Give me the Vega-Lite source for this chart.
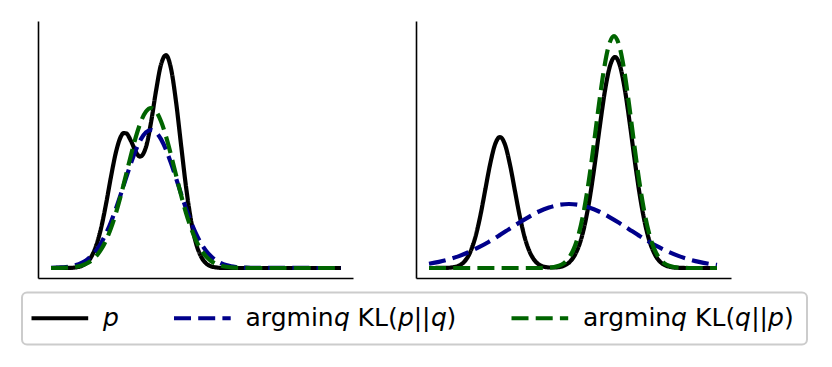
{
"$schema": "https://vega.github.io/schema/vega-lite/v6.json",
"padding": {"left": 21, "top": 21, "right": 10, "bottom": 10},
"bounds": "flush",
"spacing": 63,
"background": "white",
"data": {"values": [
{"panel":"L","s":"p","x":0,"y":0},{"panel":"L","s":"p","x":20,"y":0.19},{"panel":"L","s":"p","x":25,"y":0.62},{"panel":"L","s":"p","x":30,"y":1.8},{"panel":"L","s":"p","x":35,"y":4.7},{"panel":"L","s":"p","x":40,"y":10.7},{"panel":"L","s":"p","x":45,"y":21.9},{"panel":"L","s":"p","x":50,"y":39.6},{"panel":"L","s":"p","x":55,"y":63.8},{"panel":"L","s":"p","x":60,"y":91.3},{"panel":"L","s":"p","x":65,"y":116.0},{"panel":"L","s":"p","x":70,"y":131.7},{"panel":"L","s":"p","x":72.5,"y":134.9},{"panel":"L","s":"p","x":75,"y":134.7},{"panel":"L","s":"p","x":80,"y":127.0},{"panel":"L","s":"p","x":85,"y":115.9},{"panel":"L","s":"p","x":89,"y":111.4},{"panel":"L","s":"p","x":95,"y":121.0},{"panel":"L","s":"p","x":100,"y":145.5},{"panel":"L","s":"p","x":105,"y":177.0},{"panel":"L","s":"p","x":110,"y":203.4},{"panel":"L","s":"p","x":115,"y":212.8},{"panel":"L","s":"p","x":120,"y":199.4},{"panel":"L","s":"p","x":125,"y":166.5},{"panel":"L","s":"p","x":130,"y":123.6},{"panel":"L","s":"p","x":135,"y":81.4},{"panel":"L","s":"p","x":140,"y":47.7},{"panel":"L","s":"p","x":145,"y":24.8},{"panel":"L","s":"p","x":150,"y":11.5},{"panel":"L","s":"p","x":155,"y":4.7},{"panel":"L","s":"p","x":160,"y":1.7},{"panel":"L","s":"p","x":165,"y":0.55},{"panel":"L","s":"p","x":170,"y":0.16},{"panel":"L","s":"p","x":180,"y":0},{"panel":"L","s":"p","x":290,"y":0},
{"panel":"L","s":"pq","x":0,"y":0.15},{"panel":"L","s":"pq","x":5,"y":0.28},{"panel":"L","s":"pq","x":10,"y":0.53},{"panel":"L","s":"pq","x":15,"y":0.97},{"panel":"L","s":"pq","x":20,"y":1.71},{"panel":"L","s":"pq","x":25,"y":2.91},{"panel":"L","s":"pq","x":30,"y":4.79},{"panel":"L","s":"pq","x":35,"y":7.6},{"panel":"L","s":"pq","x":40,"y":11.7},{"panel":"L","s":"pq","x":45,"y":17.3},{"panel":"L","s":"pq","x":50,"y":24.8},{"panel":"L","s":"pq","x":55,"y":34.4},{"panel":"L","s":"pq","x":60,"y":46.1},{"panel":"L","s":"pq","x":65,"y":59.6},{"panel":"L","s":"pq","x":70,"y":74.4},{"panel":"L","s":"pq","x":75,"y":89.9},{"panel":"L","s":"pq","x":80,"y":104.9},{"panel":"L","s":"pq","x":85,"y":118.3},{"panel":"L","s":"pq","x":90,"y":128.9},{"panel":"L","s":"pq","x":95,"y":135.7},{"panel":"L","s":"pq","x":100,"y":138},{"panel":"L","s":"pq","x":105,"y":135.7},{"panel":"L","s":"pq","x":110,"y":128.9},{"panel":"L","s":"pq","x":115,"y":118.3},{"panel":"L","s":"pq","x":120,"y":104.9},{"panel":"L","s":"pq","x":125,"y":89.9},{"panel":"L","s":"pq","x":130,"y":74.4},{"panel":"L","s":"pq","x":135,"y":59.6},{"panel":"L","s":"pq","x":140,"y":46.1},{"panel":"L","s":"pq","x":145,"y":34.4},{"panel":"L","s":"pq","x":150,"y":24.8},{"panel":"L","s":"pq","x":155,"y":17.3},{"panel":"L","s":"pq","x":160,"y":11.7},{"panel":"L","s":"pq","x":165,"y":7.6},{"panel":"L","s":"pq","x":170,"y":4.79},{"panel":"L","s":"pq","x":175,"y":2.91},{"panel":"L","s":"pq","x":180,"y":1.71},{"panel":"L","s":"pq","x":185,"y":0.97},{"panel":"L","s":"pq","x":190,"y":0.53},{"panel":"L","s":"pq","x":195,"y":0.28},{"panel":"L","s":"pq","x":200,"y":0.15},{"panel":"L","s":"pq","x":290,"y":0},
{"panel":"L","s":"qp","x":0,"y":0},{"panel":"L","s":"qp","x":10,"y":0.14},{"panel":"L","s":"qp","x":15,"y":0.3},{"panel":"L","s":"qp","x":20,"y":0.62},{"panel":"L","s":"qp","x":25,"y":1.21},{"panel":"L","s":"qp","x":30,"y":2.27},{"panel":"L","s":"qp","x":35,"y":4.09},{"panel":"L","s":"qp","x":40,"y":7.03},{"panel":"L","s":"qp","x":45,"y":11.6},{"panel":"L","s":"qp","x":50,"y":18.3},{"panel":"L","s":"qp","x":55,"y":27.6},{"panel":"L","s":"qp","x":60,"y":39.9},{"panel":"L","s":"qp","x":65,"y":55.2},{"panel":"L","s":"qp","x":70,"y":73.2},{"panel":"L","s":"qp","x":75,"y":93.0},{"panel":"L","s":"qp","x":80,"y":113.1},{"panel":"L","s":"qp","x":85,"y":131.6},{"panel":"L","s":"qp","x":90,"y":146.7},{"panel":"L","s":"qp","x":95,"y":156.6},{"panel":"L","s":"qp","x":100,"y":160},{"panel":"L","s":"qp","x":105,"y":156.6},{"panel":"L","s":"qp","x":110,"y":146.7},{"panel":"L","s":"qp","x":115,"y":131.6},{"panel":"L","s":"qp","x":120,"y":113.1},{"panel":"L","s":"qp","x":125,"y":93.0},{"panel":"L","s":"qp","x":130,"y":73.2},{"panel":"L","s":"qp","x":135,"y":55.2},{"panel":"L","s":"qp","x":140,"y":39.9},{"panel":"L","s":"qp","x":145,"y":27.6},{"panel":"L","s":"qp","x":150,"y":18.3},{"panel":"L","s":"qp","x":155,"y":11.6},{"panel":"L","s":"qp","x":160,"y":7.03},{"panel":"L","s":"qp","x":165,"y":4.09},{"panel":"L","s":"qp","x":170,"y":2.27},{"panel":"L","s":"qp","x":175,"y":1.21},{"panel":"L","s":"qp","x":180,"y":0.62},{"panel":"L","s":"qp","x":185,"y":0.3},{"panel":"L","s":"qp","x":190,"y":0.14},{"panel":"L","s":"qp","x":200,"y":0},{"panel":"L","s":"qp","x":290,"y":0},
{"panel":"R","s":"p","x":0,"y":0},{"panel":"R","s":"p","x":16,"y":0.1},{"panel":"R","s":"p","x":21,"y":0.34},{"panel":"R","s":"p","x":26,"y":1.06},{"panel":"R","s":"p","x":31,"y":2.9},{"panel":"R","s":"p","x":36,"y":7.1},{"panel":"R","s":"p","x":41,"y":15.4},{"panel":"R","s":"p","x":46,"y":29.6},{"panel":"R","s":"p","x":51,"y":50.6},{"panel":"R","s":"p","x":56,"y":76.8},{"panel":"R","s":"p","x":61,"y":103.2},{"panel":"R","s":"p","x":66,"y":123.4},{"panel":"R","s":"p","x":71,"y":131},{"panel":"R","s":"p","x":76,"y":123.4},{"panel":"R","s":"p","x":81,"y":103.2},{"panel":"R","s":"p","x":86,"y":76.8},{"panel":"R","s":"p","x":91,"y":50.6},{"panel":"R","s":"p","x":96,"y":29.6},{"panel":"R","s":"p","x":101,"y":15.4},{"panel":"R","s":"p","x":106,"y":7.1},{"panel":"R","s":"p","x":111,"y":2.9},{"panel":"R","s":"p","x":116,"y":1.06},{"panel":"R","s":"p","x":121,"y":0.48},{"panel":"R","s":"p","x":126,"y":0.52},{"panel":"R","s":"p","x":131,"y":1.13},{"panel":"R","s":"p","x":136,"y":2.79},{"panel":"R","s":"p","x":141,"y":6.35},{"panel":"R","s":"p","x":146,"y":13.3},{"panel":"R","s":"p","x":151,"y":25.3},{"panel":"R","s":"p","x":156,"y":44.5},{"panel":"R","s":"p","x":161,"y":71.6},{"panel":"R","s":"p","x":166,"y":105.6},{"panel":"R","s":"p","x":171,"y":143.0},{"panel":"R","s":"p","x":176,"y":177.5},{"panel":"R","s":"p","x":181,"y":202.1},{"panel":"R","s":"p","x":186,"y":211},{"panel":"R","s":"p","x":191,"y":202.1},{"panel":"R","s":"p","x":196,"y":177.5},{"panel":"R","s":"p","x":201,"y":143.0},{"panel":"R","s":"p","x":206,"y":105.6},{"panel":"R","s":"p","x":211,"y":71.6},{"panel":"R","s":"p","x":216,"y":44.5},{"panel":"R","s":"p","x":221,"y":25.3},{"panel":"R","s":"p","x":226,"y":13.3},{"panel":"R","s":"p","x":231,"y":6.35},{"panel":"R","s":"p","x":236,"y":2.79},{"panel":"R","s":"p","x":241,"y":1.13},{"panel":"R","s":"p","x":246,"y":0.42},{"panel":"R","s":"p","x":251,"y":0.14},{"panel":"R","s":"p","x":260,"y":0},{"panel":"R","s":"p","x":288,"y":0},
{"panel":"R","s":"pq","x":0,"y":4.21},{"panel":"R","s":"pq","x":10,"y":6.12},{"panel":"R","s":"pq","x":20,"y":8.66},{"panel":"R","s":"pq","x":30,"y":11.9},{"panel":"R","s":"pq","x":40,"y":16.0},{"panel":"R","s":"pq","x":50,"y":20.8},{"panel":"R","s":"pq","x":60,"y":26.3},{"panel":"R","s":"pq","x":70,"y":32.4},{"panel":"R","s":"pq","x":80,"y":38.8},{"panel":"R","s":"pq","x":90,"y":45.2},{"panel":"R","s":"pq","x":100,"y":51.2},{"panel":"R","s":"pq","x":110,"y":56.5},{"panel":"R","s":"pq","x":120,"y":60.5},{"panel":"R","s":"pq","x":130,"y":63.1},{"panel":"R","s":"pq","x":140,"y":64},{"panel":"R","s":"pq","x":150,"y":63.1},{"panel":"R","s":"pq","x":160,"y":60.5},{"panel":"R","s":"pq","x":170,"y":56.5},{"panel":"R","s":"pq","x":180,"y":51.2},{"panel":"R","s":"pq","x":190,"y":45.2},{"panel":"R","s":"pq","x":200,"y":38.8},{"panel":"R","s":"pq","x":210,"y":32.4},{"panel":"R","s":"pq","x":220,"y":26.3},{"panel":"R","s":"pq","x":230,"y":20.8},{"panel":"R","s":"pq","x":240,"y":16.0},{"panel":"R","s":"pq","x":250,"y":11.9},{"panel":"R","s":"pq","x":260,"y":8.66},{"panel":"R","s":"pq","x":270,"y":6.12},{"panel":"R","s":"pq","x":280,"y":4.21},{"panel":"R","s":"pq","x":288,"y":3.05},
{"panel":"R","s":"qp","x":0,"y":0},{"panel":"R","s":"qp","x":110,"y":0},{"panel":"R","s":"qp","x":115,"y":0.12},{"panel":"R","s":"qp","x":120,"y":0.34},{"panel":"R","s":"qp","x":125,"y":0.9},{"panel":"R","s":"qp","x":130,"y":2.18},{"panel":"R","s":"qp","x":135,"y":4.9},{"panel":"R","s":"qp","x":140,"y":10.2},{"panel":"R","s":"qp","x":145,"y":19.6},{"panel":"R","s":"qp","x":150,"y":35.0},{"panel":"R","s":"qp","x":155,"y":57.9},{"panel":"R","s":"qp","x":160,"y":88.4},{"panel":"R","s":"qp","x":165,"y":125.1},{"panel":"R","s":"qp","x":170,"y":163.9},{"panel":"R","s":"qp","x":175,"y":198.8},{"panel":"R","s":"qp","x":180,"y":223.2},{"panel":"R","s":"qp","x":185,"y":232},{"panel":"R","s":"qp","x":190,"y":223.2},{"panel":"R","s":"qp","x":195,"y":198.8},{"panel":"R","s":"qp","x":200,"y":163.9},{"panel":"R","s":"qp","x":205,"y":125.1},{"panel":"R","s":"qp","x":210,"y":88.4},{"panel":"R","s":"qp","x":215,"y":57.9},{"panel":"R","s":"qp","x":220,"y":35.0},{"panel":"R","s":"qp","x":225,"y":19.6},{"panel":"R","s":"qp","x":230,"y":10.2},{"panel":"R","s":"qp","x":235,"y":4.9},{"panel":"R","s":"qp","x":240,"y":2.18},{"panel":"R","s":"qp","x":245,"y":0.9},{"panel":"R","s":"qp","x":250,"y":0.34},{"panel":"R","s":"qp","x":255,"y":0.12},{"panel":"R","s":"qp","x":260,"y":0},{"panel":"R","s":"qp","x":288,"y":0}
]},
"config": {
  "font": "DejaVu Sans",
  "view": {"stroke": null},
  "axis": {"domainColor": "black", "domainWidth": 1.6, "ticks": false, "labels": false, "grid": false},
  "legend": {"symbolType": "M-1.6,0H4.07", "symbolSize": 400, "symbolStrokeWidth": 4.2, "labelFont": "DejaVu Sans", "labelFontSize": 25, "labelColor": "black", "labelOffset": 43, "labelLimit": 400, "columnPadding": 46.5, "padding": 13, "strokeColor": "#cccccc", "strokeWidth": 2, "cornerRadius": 5, "fillColor": "white"}
},
"resolve": {"scale": {"color": "shared", "strokeDash": "shared"}, "legend": {"color": "shared", "strokeDash": "shared"}},
"hconcat": [
  {
    "width": 315, "height": 257,
    "transform": [{"filter": "datum.panel == 'L'"}],
    "mark": {"type": "line", "interpolate": "monotone", "strokeWidth": 4.2, "clip": false},
    "encoding": {
      "x": {"field": "x", "type": "quantitative", "scale": {"domain": [-13, 302], "nice": false, "zero": false}, "axis": {"title": null}},
      "y": {"field": "y", "type": "quantitative", "scale": {"domain": [-10, 247], "nice": false, "zero": false}, "axis": {"title": null}},
      "color": {"field": "s", "type": "nominal", "scale": {"domain": ["p", "pq", "qp"], "range": ["black", "#00008b", "#006400"]},
        "legend": {"title": null, "orient": "none", "legendX": -16, "legendY": 271.5, "direction": "horizontal", "columns": 3,
          "labelExpr": "datum.value == 'p' ? '𝘱' : datum.value == 'pq' ? 'argmin𝘲 KL(𝘱||𝘲)' : 'argmin𝘲 KL(𝘲||𝘱)'"}},
      "strokeDash": {"field": "s", "type": "nominal", "scale": {"domain": ["p", "pq", "qp"], "range": [[1, 0], [17, 7.2], [17, 7.2]]},
        "legend": {"title": null, "orient": "none", "legendX": -16, "legendY": 271.5, "direction": "horizontal", "columns": 3,
          "labelExpr": "datum.value == 'p' ? '𝘱' : datum.value == 'pq' ? 'argmin𝘲 KL(𝘱||𝘲)' : 'argmin𝘲 KL(𝘲||𝘱)'"}}
    }
  },
  {
    "width": 315, "height": 257,
    "transform": [{"filter": "datum.panel == 'R'"}],
    "mark": {"type": "line", "interpolate": "monotone", "strokeWidth": 4.2, "clip": false},
    "encoding": {
      "x": {"field": "x", "type": "quantitative", "scale": {"domain": [-13, 302], "nice": false, "zero": false}, "axis": {"title": null}},
      "y": {"field": "y", "type": "quantitative", "scale": {"domain": [-10, 247], "nice": false, "zero": false}, "axis": {"title": null}},
      "color": {"field": "s", "type": "nominal", "scale": {"domain": ["p", "pq", "qp"], "range": ["black", "#00008b", "#006400"]},
        "legend": {"title": null, "orient": "none", "legendX": -16, "legendY": 271.5, "direction": "horizontal", "columns": 3,
          "labelExpr": "datum.value == 'p' ? '𝘱' : datum.value == 'pq' ? 'argmin𝘲 KL(𝘱||𝘲)' : 'argmin𝘲 KL(𝘲||𝘱)'"}},
      "strokeDash": {"field": "s", "type": "nominal", "scale": {"domain": ["p", "pq", "qp"], "range": [[1, 0], [17, 7.2], [17, 7.2]]},
        "legend": {"title": null, "orient": "none", "legendX": -16, "legendY": 271.5, "direction": "horizontal", "columns": 3,
          "labelExpr": "datum.value == 'p' ? '𝘱' : datum.value == 'pq' ? 'argmin𝘲 KL(𝘱||𝘲)' : 'argmin𝘲 KL(𝘲||𝘱)'"}}
    }
  }
]
}
